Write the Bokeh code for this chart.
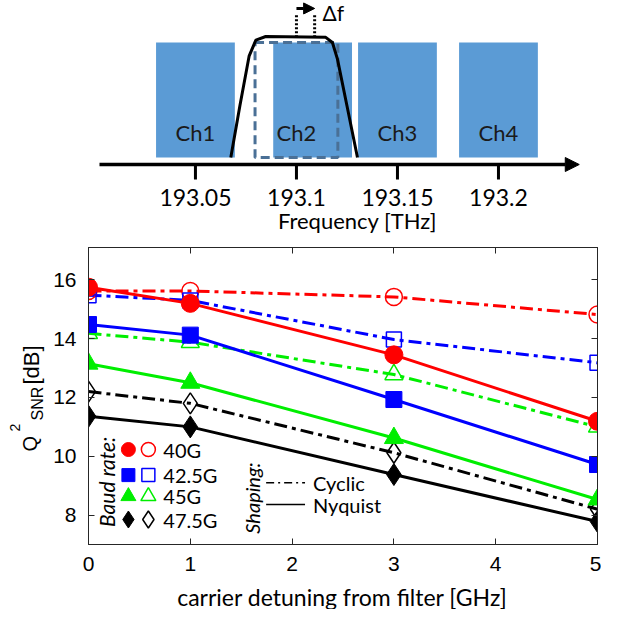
import math
from bokeh.plotting import figure
from bokeh.models import Range1d, LinearAxis, FixedTicker, Label, Arrow, NormalHead
from bokeh.layouts import column, row
from bokeh.embed import file_html
from bokeh.resources import INLINE
from bokeh.core.properties import value

# ---------------- top schematic data ----------------
ch_names = ["Ch1", "Ch2", "Ch3", "Ch4"]
ch_nominal = [193.05, 193.10, 193.15, 193.20]      # THz
ch_offset = [0.0, 0.008, 0.0, 0.0]                 # Ch2 detuned by delta f
ch_width = 0.039
filter_center = 193.10
filter_width = 0.041
filter_f = [193.0675, 193.0720, 193.0766, 193.0799, 193.0848, 193.1145, 193.1178, 193.1203, 193.1250, 193.1302]
filter_h = [0.0, 0.45, 0.884, 1.020, 1.052, 1.045, 1.000, 0.855, 0.45, 0.0]
freq_ticks = [193.05, 193.10, 193.15, 193.20]
freq_tick_labels = ["193.05", "193.1", "193.15", "193.2"]
delta_f = 0.009

# ---------------- bottom chart data ----------------
detuning = [0, 1, 3, 5]                      # GHz
baud_labels = ["40G", "42.5G", "45G", "47.5G"]
colors = ["#ff0000", "#0000ff", "#00ee00", "#000000"]
markers = ["circle", "square", "triangle", "diamond"]
q_40_nyquist = [15.75, 15.20, 13.45, 11.19]
q_40_cyclic = [15.62, 15.62, 15.42, 14.82]
q_425_nyquist = [14.48, 14.12, 11.93, 9.72]
q_425_cyclic = [15.48, 15.30, 13.97, 13.18]
q_45_nyquist = [13.15, 12.50, 10.62, 8.53]
q_45_cyclic = [14.18, 13.88, 12.78, 11.00]
q_475_nyquist = [11.36, 11.00, 9.38, 7.78]
q_475_cyclic = [12.20, 11.80, 10.12, 8.20]
nyquist = [q_40_nyquist, q_425_nyquist, q_45_nyquist, q_475_nyquist]
cyclic = [q_40_cyclic, q_425_cyclic, q_45_cyclic, q_475_cyclic]
x_ticks = [0, 1, 2, 3, 4, 5]
y_ticks = [8, 10, 12, 14, 16]
x_title = "carrier detuning from filter [GHz]"

LATO = value("Lato")


def bare_fig(w, h, xr, yr):
    f = figure(width=w, height=h, x_range=xr, y_range=yr, x_axis_type=None, y_axis_type=None,
               toolbar_location=None, output_backend="svg", min_border=0, min_border_left=0,
               min_border_right=0, min_border_top=0, min_border_bottom=0)
    f.outline_line_color = None
    f.frame_align = False
    return f


# ================= top figure =================
TOP_H = 236
top = bare_fig(601, TOP_H, Range1d(192.9535, 193.251), Range1d(-0.687, 1.3652))

ch_centers = [n + o for n, o in zip(ch_nominal, ch_offset)]
top.quad(left=[c - ch_width / 2 for c in ch_centers], right=[c + ch_width / 2 for c in ch_centers],
         bottom=0, top=1, fill_color="#5B9BD5", line_color=None)
top.quad(left=[filter_center - filter_width / 2], right=[filter_center + filter_width / 2],
         bottom=[0], top=[1], fill_color=None, line_color="#4a7096", line_width=3, line_dash="9 5")
top.line(filter_f, filter_h, line_color="black", line_width=3)
top.multi_line(xs=[[filter_center, filter_center], [filter_center + delta_f, filter_center + delta_f]],
               ys=[[1.045, 1.25], [1.045, 1.25]], line_color="black", line_width=3, line_dash="2 2")
top.add_layout(Arrow(end=NormalHead(size=11, fill_color="black", line_color="black"),
                     x_start=filter_center, y_start=1.296, x_end=filter_center + delta_f, y_end=1.296,
                     line_width=3, line_color="black"))
top.text(x=ch_nominal, y=0.217, text=ch_names, text_align="center", text_baseline="middle",
         text_font=LATO, text_font_size="22px", text_color="#1a1a1a")
top.add_layout(Label(x=193.1129, y=1.265, text="Δf", text_font="Lato", text_font_size="21px",
                     text_baseline="middle", text_align="left", text_color="black"))
# frequency axis arrow
top.add_layout(Arrow(end=NormalHead(size=14, fill_color="black", line_color="black"),
                     x_start=193.0025, y_start=-0.061, x_end=193.240, y_end=-0.061,
                     line_width=3.5, line_color="black"))
top.segment(x0=freq_ticks, y0=-0.061, x1=freq_ticks, y1=-0.191, line_color="black", line_width=3)
top.text(x=freq_ticks, y=-0.348, text=freq_tick_labels, text_align="center", text_baseline="middle",
         text_font=LATO, text_font_size="23px", text_color="black")
top.add_layout(Label(x=193.1302, y=-0.548, text="Frequency [THz]", text_font="Lato", text_font_size="22px",
                     text_baseline="middle", text_align="center", text_color="black"))

# ================= layout bands =================
MID_TOP = 8 + TOP_H          # page y where chart band starts
MID_BOT = 588                # page y where chart band ends
MID_H = MID_BOT - MID_TOP
XL_H = 617 - MID_BOT

# ---- y-label strip (page x 8..58) ----
ylab = bare_fig(50, MID_H, Range1d(0, 50), Range1d(0, MID_H))
for txt, px, py, fs in [("Q", 37, 459, "20px"), ("2", 22, 439, "14px"),
                        ("SNR", 45, 428, "16px"), ("[dB]", 39, 392, "22px")]:
    ylab.add_layout(Label(x=px - 8, y=MID_BOT - py, text=txt, angle=math.pi / 2,
                          text_font="Liberation Sans", text_font_size=fs, text_align="left",
                          text_baseline="alphabetic", text_color="black"))

# ---- x-label strip (page y 588..617) ----
xlab = bare_fig(601, XL_H, Range1d(0, 601), Range1d(0, XL_H))
xlab.add_layout(Label(x=350 - 8, y=617 - 604, text=x_title, text_font="Lato", text_font_size="23px",
                      text_align="center", text_baseline="alphabetic", text_color="black"))

# ================= chart =================
p = figure(width=551, height=MID_H, x_range=Range1d(0, 5), y_range=Range1d(7, 17.1),
           toolbar_location=None, output_backend="svg",
           min_border_left=37, min_border_right=4, min_border_top=255 - MID_TOP,
           min_border_bottom=MID_BOT - 552)
p.frame_align = False
p.xgrid.visible = False
p.ygrid.visible = False
p.outline_line_color = "#262626"

axis_color = "#262626"
for ax in p.xaxis:
    ax.ticker = FixedTicker(ticks=x_ticks)
    ax.major_label_standoff = 12
for ax in p.yaxis:
    ax.ticker = FixedTicker(ticks=y_ticks)
    ax.major_label_standoff = 12
for ax in list(p.xaxis) + list(p.yaxis):
    ax.major_tick_in = 6
    ax.major_tick_out = 0
    ax.minor_tick_line_color = None
    ax.axis_line_color = axis_color
    ax.major_tick_line_color = axis_color
    ax.major_label_text_font = "Liberation Sans"
    ax.major_label_text_font_size = "21px"
    ax.major_label_text_color = "black"

right_ax = LinearAxis(ticker=FixedTicker(ticks=y_ticks), major_label_overrides={t: "" for t in y_ticks},
                      major_label_text_font_size="1px",
                      major_label_standoff=0, major_tick_in=6, major_tick_out=0,
                      minor_tick_line_color=None, axis_line_color=axis_color,
                      major_tick_line_color=axis_color)
top_ax = LinearAxis(ticker=FixedTicker(ticks=x_ticks), major_label_overrides={t: "" for t in x_ticks},
                    major_label_text_font_size="1px",
                    major_label_standoff=0, major_tick_in=6, major_tick_out=0,
                    minor_tick_line_color=None, axis_line_color=axis_color,
                    major_tick_line_color=axis_color)
p.add_layout(right_ax, "right")
p.add_layout(top_ax, "above")

# cyclic (dash-dot, open markers) first
for col, mk, ys in zip(colors, markers, cyclic):
    p.line(detuning, ys, line_color=col, line_width=3, line_dash="13 5 4 5")
for col, mk, ys in zip(colors, markers, cyclic):
    sz = {"circle": 17, "square": 15, "triangle": 18, "diamond": 21}[mk]
    p.scatter(detuning, ys, marker=mk, size=sz, fill_color=None, line_color=col, line_width=1.5)
# nyquist (solid, filled markers)
for col, mk, ys in zip(colors, markers, nyquist):
    p.line(detuning, ys, line_color=col, line_width=3)
for col, mk, ys in zip(colors, markers, nyquist):
    sz = {"circle": 18, "square": 16, "triangle": 19, "diamond": 22}[mk]
    p.scatter(detuning, ys, marker=mk, size=sz, fill_color=col, line_color=col, line_width=1)

# ---- legend (drawn by hand) ----
leg_rows = [10.23, 9.36, 8.64, 7.85]
for row_y, col, mk, lab in zip(leg_rows, colors, markers, baud_labels):
    sz = {"circle": 14, "square": 13, "triangle": 15, "diamond": 17}[mk]
    p.scatter([0.392], [row_y], marker=mk, size=sz, fill_color=col, line_color=col)
    p.scatter([0.588], [row_y], marker=mk, size=sz, fill_color=None, line_color=col, line_width=1.5)
    p.add_layout(Label(x=0.735, y=row_y, text=lab, text_font="Lato", text_font_size="20px",
                       text_baseline="middle", text_align="left", text_color="black"))
p.add_layout(Label(x=0.176, y=9.13, text="Baud rate:", angle=math.pi / 2, text_font="Lato",
                   text_font_style="italic", text_font_size="21px", text_align="center",
                   text_baseline="middle", text_color="black"))
p.add_layout(Label(x=1.608, y=8.58, text="Shaping:", angle=math.pi / 2, text_font="Lato",
                   text_font_style="italic", text_font_size="20px", text_align="center",
                   text_baseline="middle", text_color="black"))
p.line([1.745, 2.127], [9.10, 9.10], line_color="black", line_width=1.5, line_dash="8 4 2 4")
p.line([1.745, 2.127], [8.36, 8.36], line_color="black", line_width=1.5)
p.add_layout(Label(x=2.206, y=9.10, text="Cyclic", text_font="Lato", text_font_size="20px",
                   text_baseline="middle", text_align="left", text_color="black"))
p.add_layout(Label(x=2.206, y=8.36, text="Nyquist", text_font="Lato", text_font_size="20px",
                   text_baseline="middle", text_align="left", text_color="black"))

layout = column(top, row(ylab, p), xlab)
open("out.html", "w").write(file_html(layout, INLINE))
